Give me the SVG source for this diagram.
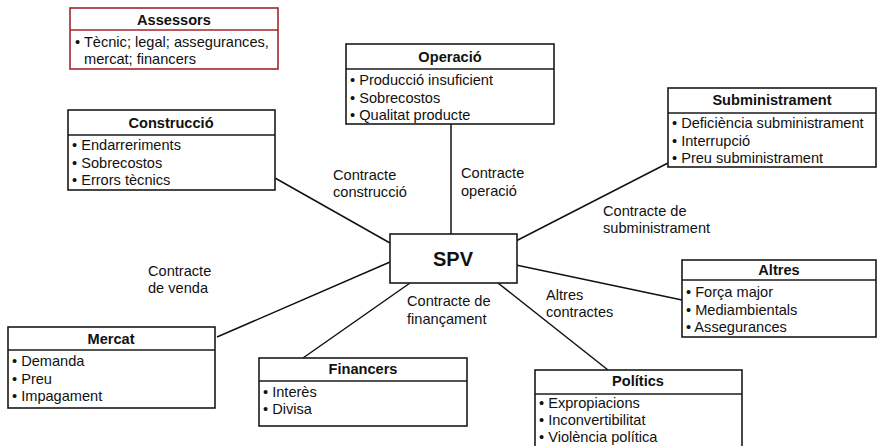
<svg xmlns="http://www.w3.org/2000/svg" width="878" height="446" viewBox="0 0 878 446">
<style>
.box{fill:#fff;stroke:#1a1a1a;stroke-width:1.6}
.red{fill:#fff;stroke:#a3262a;stroke-width:1.6}
.sep{stroke:#1a1a1a;stroke-width:1.4}
.sepr{stroke:#a3262a;stroke-width:1.4}
text{font-family:"Liberation Sans",Arial,sans-serif;font-size:14.6px;fill:#111}
.t{font-weight:bold;text-anchor:middle}
.spv{font-weight:bold;font-size:20px;text-anchor:middle}
.c line{stroke:#111;stroke-width:1.5}
</style>
<g class="c" id="connectors">
<line x1="451" y1="124" x2="451" y2="234"/>
<line x1="275" y1="178" x2="390" y2="243"/>
<line x1="668" y1="163" x2="514" y2="242"/>
<line x1="682" y1="300" x2="516" y2="265"/>
<line x1="217" y1="337" x2="390" y2="262"/>
<line x1="303" y1="358" x2="410" y2="283"/>
<line x1="608" y1="370" x2="498" y2="283"/>
</g>
<g id="labels">
<text x="333" y="180">Contracte</text><text x="333" y="197">construcció</text>
<text x="461" y="178">Contracte</text><text x="461" y="196">operació</text>
<text x="603" y="216">Contracte de</text><text x="603" y="233">subministrament</text>
<text x="148" y="276">Contracte</text><text x="148" y="293">de venda</text>
<text x="407" y="306">Contracte de</text><text x="407" y="324">finançament</text>
<text x="546" y="300">Altres</text><text x="546" y="317">contractes</text>
</g>
<g id="assessors">
<rect class="red" x="70" y="8" width="208" height="61"/>
<line class="sepr" x1="70" y1="30" x2="278" y2="30"/>
<text class="t" x="174" y="25">Assessors</text>
<text x="75" y="47">• Tècnic; legal; assegurances,</text>
<text x="84" y="64">mercat; financers</text>
</g>
<g id="operacio">
<rect class="box" x="346" y="44" width="208" height="80"/>
<line class="sep" x1="346" y1="69" x2="554" y2="69"/>
<text class="t" x="450" y="62">Operació</text>
<text x="350" y="85">• Producció insuficient</text>
<text x="350" y="103">• Sobrecostos</text>
<text x="350" y="120">• Qualitat producte</text>
</g>
<g id="construccio">
<rect class="box" x="68" y="110" width="207" height="80"/>
<line class="sep" x1="68" y1="135" x2="275" y2="135"/>
<text class="t" x="171" y="128">Construcció</text>
<text x="72" y="150">• Endarreriments</text>
<text x="72" y="168">• Sobrecostos</text>
<text x="72" y="185">• Errors tècnics</text>
</g>
<g id="subministrament">
<rect class="box" x="668" y="88" width="208" height="79"/>
<line class="sep" x1="668" y1="113" x2="876" y2="113"/>
<text class="t" x="772" y="105">Subministrament</text>
<text x="672" y="128">• Deficiència subministrament</text>
<text x="672" y="146">• Interrupció</text>
<text x="672" y="163">• Preu subministrament</text>
</g>
<g id="spv">
<rect class="box" x="390" y="234" width="127" height="49"/>
<text class="spv" x="453" y="266">SPV</text>
</g>
<g id="altres">
<rect class="box" x="682" y="260" width="194" height="77"/>
<line class="sep" x1="682" y1="280" x2="876" y2="280"/>
<text class="t" x="779" y="275">Altres</text>
<text x="686" y="297">• Força major</text>
<text x="686" y="315">• Mediambientals</text>
<text x="686" y="332">• Assegurances</text>
</g>
<g id="mercat">
<rect class="box" x="8" y="327" width="207" height="81"/>
<line class="sep" x1="8" y1="350" x2="215" y2="350"/>
<text class="t" x="111" y="344">Mercat</text>
<text x="12" y="366">• Demanda</text>
<text x="12" y="384">• Preu</text>
<text x="12" y="401">• Impagament</text>
</g>
<g id="financers">
<rect class="box" x="259" y="358" width="208" height="68"/>
<line class="sep" x1="259" y1="381" x2="467" y2="381"/>
<text class="t" x="363" y="374">Financers</text>
<text x="263" y="397">• Interès</text>
<text x="263" y="414">• Divisa</text>
</g>
<g id="politics">
<rect class="box" x="535" y="370" width="207" height="82"/>
<line class="sep" x1="535" y1="394" x2="742" y2="394"/>
<text class="t" x="638" y="386">Polítics</text>
<text x="539" y="408">• Expropiacions</text>
<text x="539" y="425">• Inconvertibilitat</text>
<text x="539" y="442">• Violència política</text>
</g>
</svg>
